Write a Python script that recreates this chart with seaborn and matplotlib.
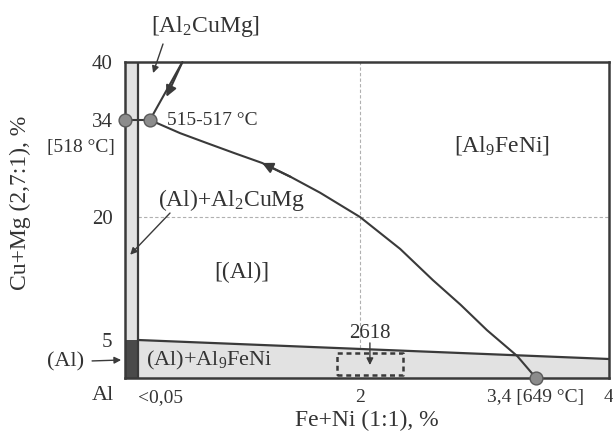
import numpy as np
import pandas as pd
import matplotlib
matplotlib.use("Agg")
import matplotlib.pyplot as plt
import seaborn as sns

# --- data -------------------------------------------------------------
# monovariant line L -> (Al)+Al2CuMg+Al9FeNi, from the ternary eutectic to the Al-Al9FeNi side
curve_x = [0.155, 0.42, 0.65, 0.90, 1.14, 1.39, 1.65, 2.0, 2.32, 2.58, 2.80, 3.01, 3.25, 3.4]
curve_y = [34.0, 32.1, 30.7, 29.2, 27.8, 25.8, 23.5, 20.0, 16.1, 12.3, 9.3, 6.2, 2.9, 0.0]
# L -> (Al)+Al2CuMg line coming from the Al2CuMg field
upper_x = [0.44, 0.155]
upper_y = [40.0, 34.0]
# invariant points
pts_x = [0.0, 0.155, 3.4]
pts_y = [34.0, 34.0, 0.0]
# solid-solution boundaries
al_limit_x = 0.05          # Fe+Ni solubility
al_limit_y = 5.0           # Cu+Mg solubility at the Al corner
band_top_right = 2.5       # (Al)+Al9FeNi boundary at 4 % Fe+Ni
# alloy 2618 composition window
box_x = [1.80, 2.34]
box_y = [0.4, 3.3]

xticks = [0.05, 2, 3.4, 4]
xtick_labels = ["<0,05", "2", "3,4 [649 °C]", "4"]
yticks = [5, 20, 34, 40]
ytick_labels = ["5", "20", "34", "40"]

# --- piecewise scales of the schematic axes ---------------------------
X_SRC, X_DST = [0, 0.05, 2, 3.4, 4], [0, 13, 235, 411, 484]
Y_SRC, Y_DST = [0, 5, 20, 34, 40], [0, 38, 161, 258, 316]


def _pw(v, src, dst):
    v = np.asarray(v, dtype=float)
    flat = np.atleast_1d(v).ravel()
    out = np.interp(flat, src, dst)
    lo, hi = flat < src[0], flat > src[-1]
    out[lo] = dst[0] + (flat[lo] - src[0]) * (dst[1] - dst[0]) / (src[1] - src[0])
    out[hi] = dst[-1] + (flat[hi] - src[-1]) * (dst[-1] - dst[-2]) / (src[-1] - src[-2])
    return out.reshape(v.shape)


sns.set_theme(style="white")
plt.rcParams["font.family"] = ["Liberation Serif", "DejaVu Serif"]
plt.rcParams["mathtext.fontset"] = "custom"
plt.rcParams["mathtext.rm"] = "Liberation Serif"
plt.rcParams["mathtext.it"] = "Liberation Serif"

INK = "#333333"
LINE = "#3a3a3a"

fig = plt.figure(figsize=(6.13, 4.34), dpi=100)
ax = fig.add_axes([125 / 613, 56 / 434, 484 / 613, 316 / 434])
ax.set_xscale("function", functions=(lambda v: _pw(v, X_SRC, X_DST),
                                     lambda v: _pw(v, X_DST, X_SRC)))
ax.set_yscale("function", functions=(lambda v: _pw(v, Y_SRC, Y_DST),
                                     lambda v: _pw(v, Y_DST, Y_SRC)))
ax.set_xlim(0, 4)
ax.set_ylim(0, 40)

# grid lines at 2 % and 20 %
ax.plot([al_limit_x, 4], [20, 20], color="#b0b0b0", lw=0.8, ls=(0, (3, 2)), zorder=1)
ax.plot([2, 2], [4, 40], color="#b0b0b0", lw=0.8, ls=(0, (3, 2)), zorder=1)

# phase regions
ax.fill_between([0, al_limit_x], al_limit_y, 40, color="#e2e2e2", lw=0, zorder=2)
ax.fill_between([0, al_limit_x], 0, al_limit_y, color="#4a4a4a", lw=0, zorder=2)
ax.fill_between([al_limit_x, 4], [0, 0], [al_limit_y, band_top_right],
                color="#e2e2e2", lw=0, zorder=2)
ax.plot([al_limit_x, al_limit_x], [0, 40], color=LINE, lw=1.6, zorder=3)
ax.plot([al_limit_x, 4], [al_limit_y, band_top_right], color=LINE, lw=1.6, zorder=3)

# 2618 window
ax.plot([box_x[0], box_x[1], box_x[1], box_x[0], box_x[0]],
        [box_y[0], box_y[0], box_y[1], box_y[1], box_y[0]],
        color=LINE, lw=1.8, ls=(0, (2, 1.5)), zorder=4)

# liquidus valleys
sns.lineplot(x=curve_x, y=curve_y, sort=False, estimator=None, color=LINE,
             lw=1.5, ax=ax, zorder=5)
sns.lineplot(x=upper_x, y=upper_y, sort=False, estimator=None, color=LINE,
             lw=1.5, ax=ax, zorder=5)
ax.plot(pts_x[:2], pts_y[:2], color=LINE, lw=1.5, zorder=5)

arrow = dict(arrowstyle="-|>", color=LINE, lw=1.5, mutation_scale=16, shrinkA=0, shrinkB=0)
ax.annotate("", xy=(curve_x[4], curve_y[4]), xytext=(curve_x[5], curve_y[5]),
            arrowprops=arrow, zorder=6)
ax.annotate("", xy=(0.30, 36.4), xytext=(upper_x[0], upper_y[0]),
            arrowprops=arrow, zorder=6)

sns.scatterplot(x=pts_x, y=pts_y, s=85, color="#8c8c8c", edgecolor="#5a5a5a",
                linewidth=1.0, ax=ax, zorder=7, clip_on=False)

# frame
for sp in ax.spines.values():
    sp.set_color(LINE)
    sp.set_linewidth(1.8)

ax.set_xticks(xticks)
ax.set_xticklabels(xtick_labels)
ax.set_yticks(yticks)
ax.set_yticklabels(ytick_labels)
ax.tick_params(axis="both", length=0, labelsize=14, labelcolor=INK)
ax.tick_params(axis="y", labelsize=15)
ax.tick_params(axis="x", pad=8)
ax.tick_params(axis="y", pad=9)
ax.get_xticklabels()[0].set_ha("left")

ax.set_xlabel("Fe+Ni (1:1), %", fontsize=17, color=INK)
ax.xaxis.set_label_coords(0.5, -0.10)
ax.set_ylabel("Cu+Mg (2,7:1), %", fontsize=17, color=INK)
ax.yaxis.set_label_coords(-0.195, 0.554)

# labels
big = dict(fontsize=17, color=INK, transform=ax.transAxes, va="center")
small = dict(fontsize=14, color=INK, transform=ax.transAxes, va="center")
ax.text(0.167, 1.112, r"[Al$_\mathrm{2}$CuMg]", ha="center", **big)
ax.text(0.779, 0.737, r"[Al$_\mathrm{9}$FeNi]", ha="center", **big)
ax.text(0.242, 0.335, "[(Al)]", ha="center", **big)
ax.text(0.221, 0.563, r"(Al)+Al$_\mathrm{2}$CuMg", ha="center", **big)
ax.text(0.043, 0.054, r"(Al)+Al$_\mathrm{9}$FeNi", ha="left", fontsize=16,
        color=INK, transform=ax.transAxes, va="center")
ax.text(-0.122, 0.051, "(Al)", ha="center", fontsize=16, color=INK,
        transform=ax.transAxes, va="center")
ax.text(-0.045, -0.054, "Al", ha="center", fontsize=16, color=INK,
        transform=ax.transAxes, va="center")
ax.text(0.087, 0.816, "515-517 °C", ha="left", **small)
ax.text(-0.021, 0.731, "[518 °C]", ha="right", **small)
ax.text(0.506, 0.142, "2618", ha="center", fontsize=15, color=INK,
        transform=ax.transAxes, va="center")

thin = dict(arrowstyle="-|>", color=LINE, lw=1.0, mutation_scale=10, shrinkA=0, shrinkB=0)
ax.annotate("", xy=(0.058, 0.965), xytext=(0.0785, 1.057), xycoords="axes fraction",
            textcoords="axes fraction", arrowprops=thin, annotation_clip=False)
ax.annotate("", xy=(0.02, 15.4), xytext=(0.093, 0.522), xycoords="data",
            textcoords="axes fraction", arrowprops=thin, annotation_clip=False)
ax.annotate("", xy=(-0.008, 0.057), xytext=(-0.068, 0.054), xycoords="axes fraction",
            textcoords="axes fraction", arrowprops=thin, annotation_clip=False)
ax.annotate("", xy=(0.506, 0.041), xytext=(0.506, 0.111), xycoords="axes fraction",
            textcoords="axes fraction", arrowprops=thin, annotation_clip=False)

fig.savefig("out.png", dpi=100)
